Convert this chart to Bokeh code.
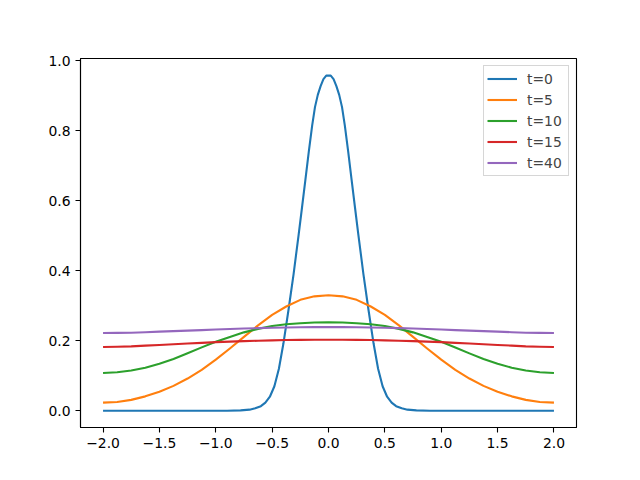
from bokeh.plotting import figure
from bokeh.models import Range1d, FixedTicker, Legend, LegendItem
from bokeh.embed import file_html
from bokeh.resources import INLINE

# Temperature profiles u(x) at several times

# Fine sampling for the narrow initial pulse
t0_x = [-2.0, -0.9, -0.78, -0.70, -0.65, -0.60, -0.56, -0.52, -0.48, -0.44,
        -0.40, -0.355, -0.31, -0.265, -0.235, -0.205, -0.175, -0.145,
        -0.12, -0.095, -0.07, -0.045, -0.02,
        0.02, 0.045, 0.07, 0.095, 0.12,
        0.145, 0.175, 0.205, 0.235, 0.265, 0.31, 0.355, 0.40,
        0.44, 0.48, 0.52, 0.56, 0.60, 0.65, 0.70, 0.78, 0.9, 2.0]
t0_u = [0.0, 0.0, 0.001, 0.003, 0.007, 0.013, 0.023, 0.040, 0.070, 0.120,
        0.192, 0.288, 0.390, 0.503, 0.581, 0.660, 0.740, 0.815,
        0.868, 0.903, 0.928, 0.948, 0.958,
        0.958, 0.948, 0.928, 0.903, 0.868,
        0.815, 0.740, 0.660, 0.581, 0.503, 0.390, 0.288, 0.192,
        0.120, 0.070, 0.040, 0.023, 0.013, 0.007, 0.003, 0.001, 0.0, 0.0]

# Common grid for the later profiles
x_grid = [-2.0, -1.875, -1.75, -1.625, -1.5, -1.375, -1.25, -1.125, -1.0,
          -0.875, -0.75, -0.625, -0.5, -0.375, -0.25, -0.125, 0.0,
          0.125, 0.25, 0.375, 0.5, 0.625, 0.75, 0.875, 1.0,
          1.125, 1.25, 1.375, 1.5, 1.625, 1.75, 1.875, 2.0]
t5_u = [0.023, 0.025, 0.031, 0.041, 0.054, 0.071, 0.092, 0.117, 0.146,
        0.178, 0.211, 0.244, 0.274, 0.298, 0.317, 0.327, 0.330,
        0.327, 0.317, 0.298, 0.274, 0.244, 0.211, 0.178, 0.146,
        0.117, 0.092, 0.071, 0.054, 0.041, 0.031, 0.025, 0.023]
t10_u = [0.108, 0.110, 0.115, 0.123, 0.134, 0.148, 0.164, 0.181, 0.197,
         0.211, 0.224, 0.234, 0.242, 0.247, 0.250, 0.252, 0.253,
         0.252, 0.250, 0.247, 0.242, 0.234, 0.224, 0.211, 0.197,
         0.181, 0.164, 0.148, 0.134, 0.123, 0.115, 0.110, 0.108]
t15_u = [0.182, 0.183, 0.184, 0.186, 0.188, 0.190, 0.192, 0.194, 0.196,
         0.1975, 0.199, 0.200, 0.201, 0.202, 0.2025, 0.203, 0.203,
         0.203, 0.2025, 0.202, 0.201, 0.200, 0.199, 0.1975, 0.196,
         0.194, 0.192, 0.190, 0.188, 0.186, 0.184, 0.183, 0.182]
t40_u = [0.222, 0.2225, 0.223, 0.2245, 0.226, 0.2275, 0.229, 0.2305, 0.232,
         0.2335, 0.235, 0.236, 0.237, 0.238, 0.2385, 0.239, 0.239,
         0.239, 0.2385, 0.238, 0.237, 0.236, 0.235, 0.2335, 0.232,
         0.2305, 0.229, 0.2275, 0.226, 0.2245, 0.223, 0.2225, 0.222]

labels = ["t=0", "t=5", "t=10", "t=15", "t=40"]
colors = ["#1f77b4", "#ff7f0e", "#2ca02c", "#d62728", "#9467bd"]

x_ticks = [-2.0, -1.5, -1.0, -0.5, 0.0, 0.5, 1.0, 1.5, 2.0]
y_ticks = [0.0, 0.2, 0.4, 0.6, 0.8, 1.0]

FONT = "DejaVu Sans"
FS = "13.9px"

p = figure(width=640, height=480, output_backend="svg", toolbar_location=None,
           x_range=Range1d(-2.2, 2.2), y_range=Range1d(-0.048, 1.007),
           min_border_left=80, min_border_right=64,
           min_border_top=58, min_border_bottom=53)
p.background_fill_color = "white"
p.border_fill_color = "white"
p.grid.visible = False
p.outline_line_color = "black"
p.outline_line_width = 1.1

series = [(t0_x, t0_u), (x_grid, t5_u), (x_grid, t10_u), (x_grid, t15_u), (x_grid, t40_u)]
items = []
for (xs, us), lab, col in zip(series, labels, colors):
    r = p.line(xs, us, line_color=col, line_width=2.1, line_join="round")
    items.append(LegendItem(label=lab, renderers=[r]))

for ax, ticks in ((p.xaxis[0], x_ticks), (p.yaxis[0], y_ticks)):
    ax.ticker = FixedTicker(ticks=ticks)
    ax.major_label_overrides = {t: f"{t:.1f}".replace("-", "\u2212") for t in ticks}
    ax.major_label_text_font = FONT
    ax.major_label_text_font_size = FS
    ax.major_label_text_color = "black"
    ax.major_tick_out = 5
    ax.major_tick_in = 0
    ax.minor_tick_out = 0
    ax.minor_tick_in = 0
    ax.major_tick_line_width = 1.1
    ax.axis_line_width = 1.1
    ax.major_label_standoff = 5

legend = Legend(items=items, location="top_right", margin=7,
                padding=3, spacing=2, glyph_width=30, glyph_height=19,
                label_height=19, label_width=38, label_standoff=10,
                label_text_font=FONT, label_text_font_size=FS,
                border_line_color="#cccccc", border_line_alpha=0.8,
                border_line_width=1.1,
                background_fill_color="white", background_fill_alpha=0.8)
p.add_layout(legend)

open("out.html", "w").write(file_html(p, INLINE))
